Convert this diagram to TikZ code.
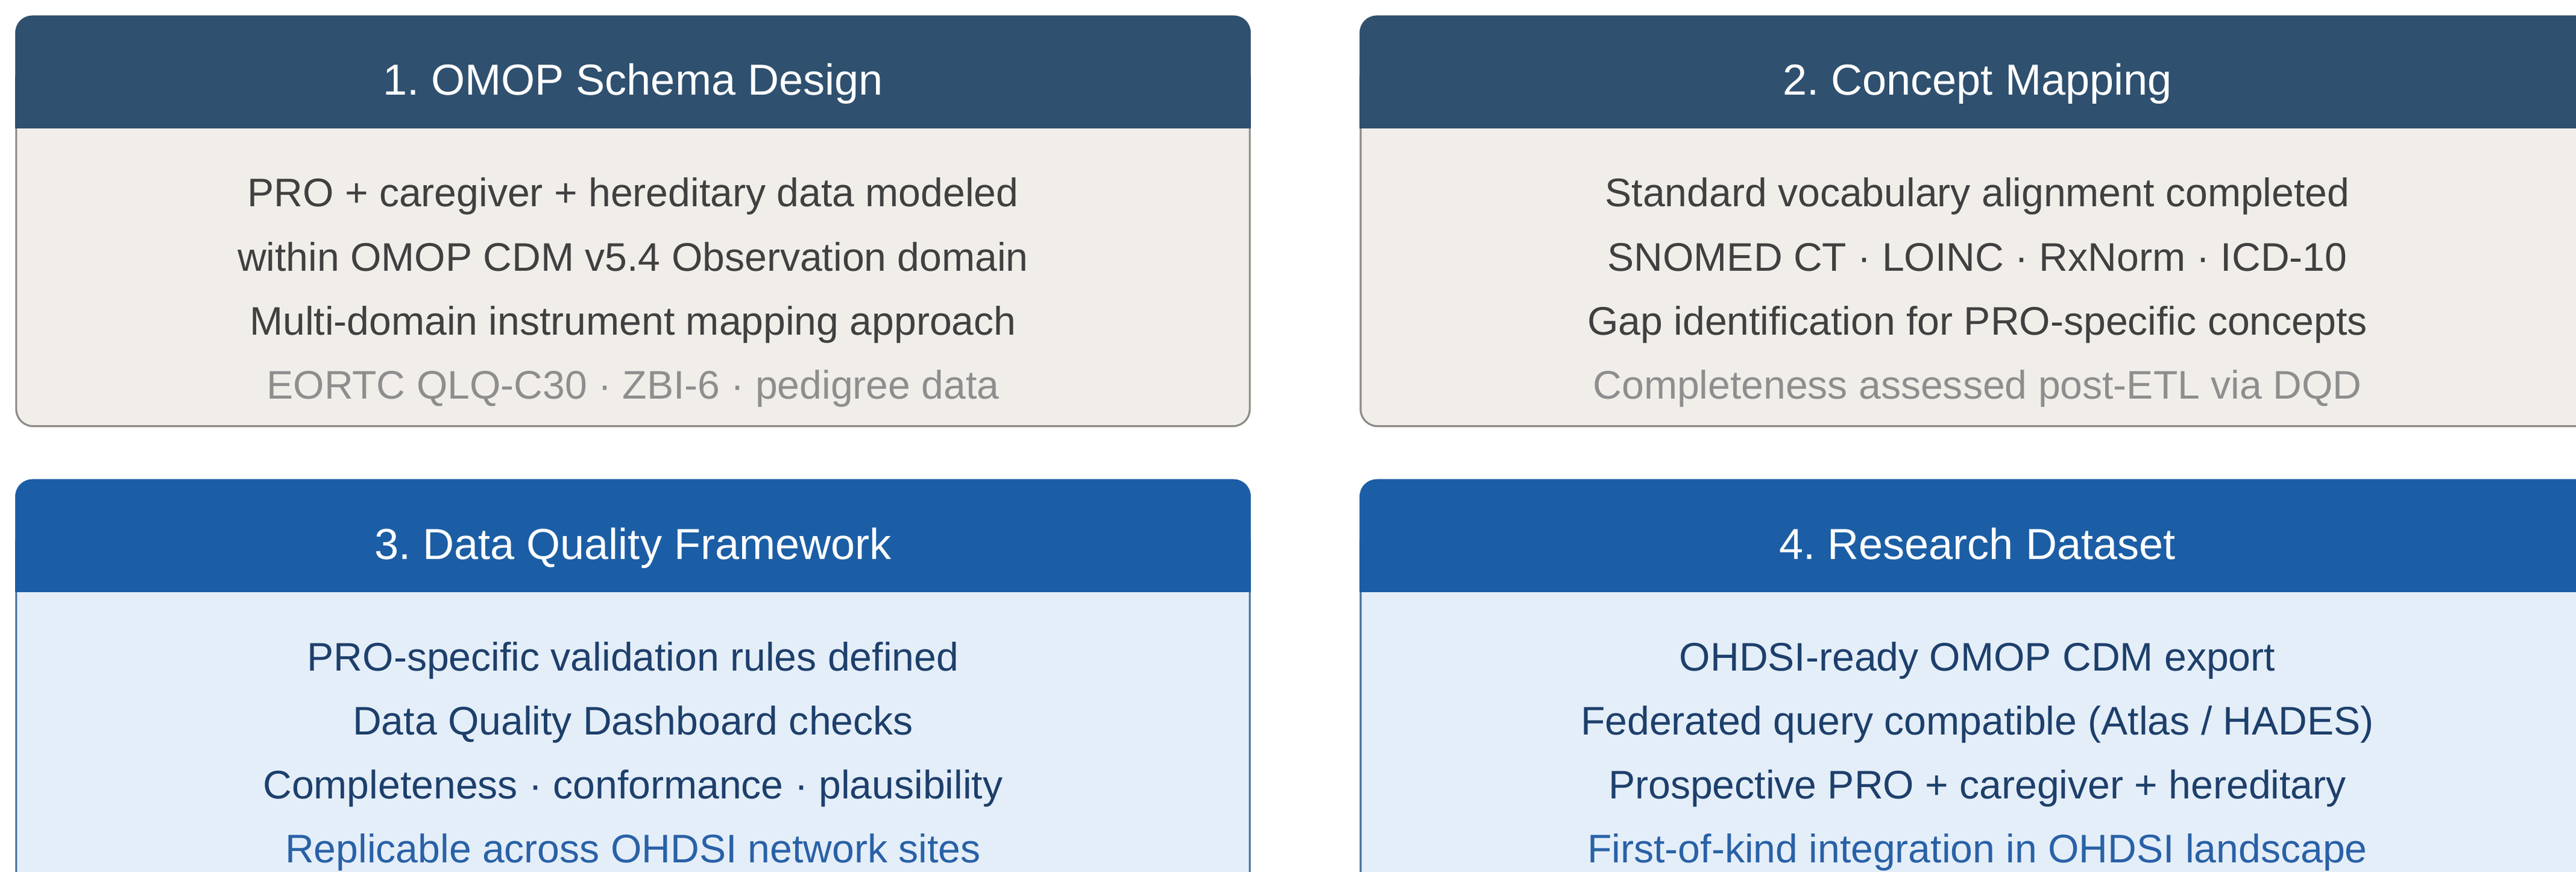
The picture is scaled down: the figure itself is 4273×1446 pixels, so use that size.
\documentclass[tikz,border=0pt]{standalone}
\usepackage{fontspec}
\setmainfont{Liberation Sans}
\usepackage{tikz}
\frenchspacing

\definecolor{headA}{HTML}{2F506F}
\definecolor{bodyA}{HTML}{F1EEE9}
\definecolor{lineA}{HTML}{8E8B86}
\definecolor{textA}{HTML}{404040}
\definecolor{noteA}{HTML}{8E8E8E}
\definecolor{headB}{HTML}{1C5EA5}
\definecolor{bodyB}{HTML}{E4EEF9}
\definecolor{lineB}{HTML}{44709E}
\definecolor{textB}{HTML}{1D3F6B}
\definecolor{noteB}{HTML}{2961A7}

\begin{document}
\begin{tikzpicture}[x=0.01cm, y=-0.01cm,
  card/.style={rectangle, rounded corners=0.28cm, line width=0.9pt,
    minimum width=20.45cm, minimum height=6.79cm, inner sep=0pt},
  title/.style={anchor=base, text=white, font=\fontsize{20.5}{24}\selectfont},
  item/.style={anchor=base, font=\fontsize{18.8}{22}\selectfont}]
 \useasboundingbox (0,0) rectangle (4273,1446);
 % card 1
 \node[card, fill=bodyA, draw=lineA] (c1) at (1050,367) {};
 \fill[headA, rounded corners=0.28cm] (c1.north west) rectangle ([yshift=-1.87cm]c1.north east);
 \fill[headA] ([yshift=-1cm]c1.north west) rectangle ([yshift=-1.87cm]c1.north east);
 \node[title] (t1) at (1050,158) {1. OMOP Schema Design};
 \node[item, text=textA] (a1) at (1050,343) {PRO + caregiver + hereditary data modeled};
 \node[item, text=textA] (a2) at (1050,449) {within OMOP CDM v5.4 Observation domain};
 \node[item, text=textA] (a3) at (1050,555) {Multi-domain instrument mapping approach};
 \node[item, text=noteA] (a4) at (1050,661) {EORTC QLQ-C30 · ZBI-6 · pedigree data};
 % card 2
 \node[card, fill=bodyA, draw=lineA] (c2) at (3280,367) {};
 \fill[headA, rounded corners=0.28cm] (c2.north west) rectangle ([yshift=-1.87cm]c2.north east);
 \fill[headA] ([yshift=-1cm]c2.north west) rectangle ([yshift=-1.87cm]c2.north east);
 \node[title] (t2) at (3280,158) {2. Concept Mapping};
 \node[item, text=textA] (b1) at (3280,343) {Standard vocabulary alignment completed};
 \node[item, text=textA] (b2) at (3280,449) {SNOMED CT · LOINC · RxNorm · ICD-10};
 \node[item, text=textA] (b3) at (3280,555) {Gap identification for PRO-specific concepts};
 \node[item, text=noteA] (b4) at (3280,661) {Completeness assessed post-ETL via DQD};
 % card 3
 \node[card, fill=bodyB, draw=lineB] (c3) at (1050,1136) {};
 \fill[headB, rounded corners=0.28cm] (c3.north west) rectangle ([yshift=-1.87cm]c3.north east);
 \fill[headB] ([yshift=-1cm]c3.north west) rectangle ([yshift=-1.87cm]c3.north east);
 \node[title] (t3) at (1050,927) {3. Data Quality Framework};
 \node[item, text=textB] (d1) at (1050,1112) {PRO-specific validation rules defined};
 \node[item, text=textB] (d2) at (1050,1218) {Data Quality Dashboard checks};
 \node[item, text=textB] (d3) at (1050,1324) {Completeness · conformance · plausibility};
 \node[item, text=noteB] (d4) at (1050,1430) {Replicable across OHDSI network sites};
 % card 4
 \node[card, fill=bodyB, draw=lineB] (c4) at (3280,1136) {};
 \fill[headB, rounded corners=0.28cm] (c4.north west) rectangle ([yshift=-1.87cm]c4.north east);
 \fill[headB] ([yshift=-1cm]c4.north west) rectangle ([yshift=-1.87cm]c4.north east);
 \node[title] (t4) at (3280,927) {4. Research Dataset};
 \node[item, text=textB] (e1) at (3280,1112) {OHDSI-ready OMOP CDM export};
 \node[item, text=textB] (e2) at (3280,1218) {Federated query compatible (Atlas / HADES)};
 \node[item, text=textB] (e3) at (3280,1324) {Prospective PRO + caregiver + hereditary};
 \node[item, text=noteB] (e4) at (3280,1430) {First-of-kind integration in OHDSI landscape};
\end{tikzpicture}
\end{document}
